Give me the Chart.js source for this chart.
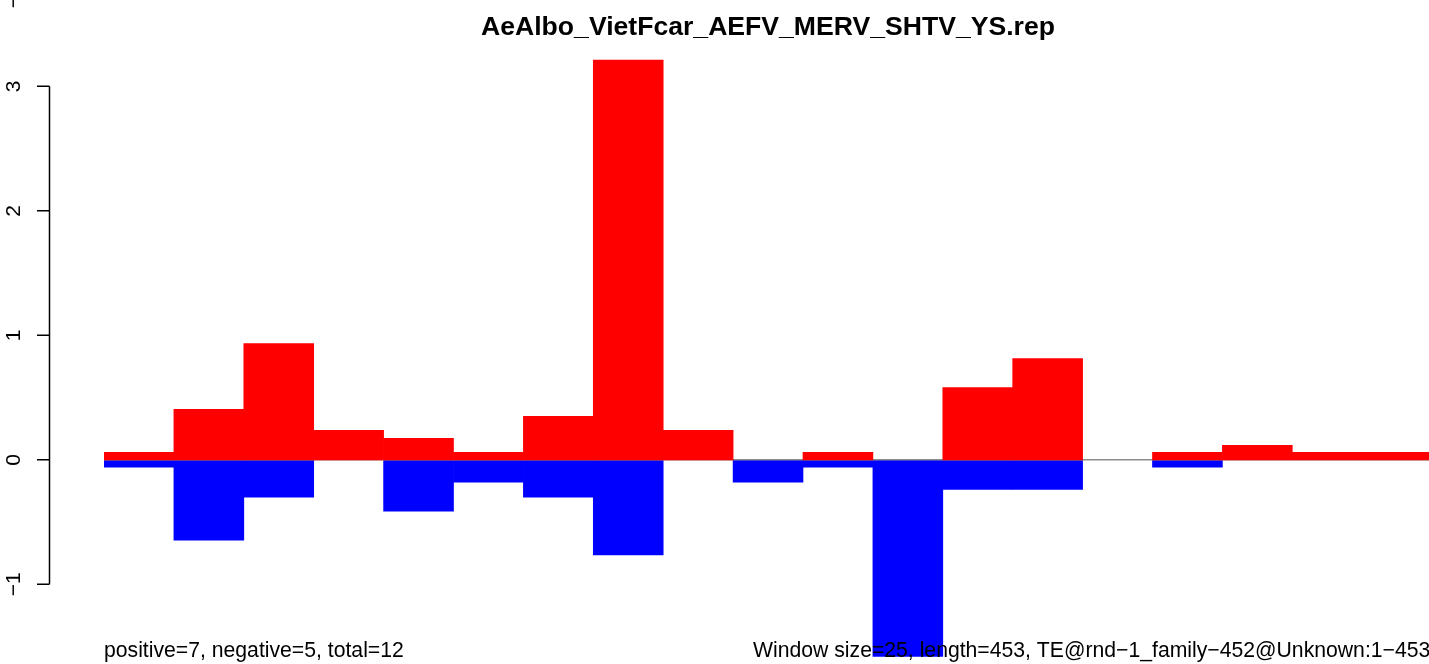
<!DOCTYPE html>
<html>
<head>
<meta charset="utf-8">
<script src="https://cdn.jsdelivr.net/npm/chart.js@4/dist/chart.umd.min.js"></script>
<style>
  html, body { margin: 0; padding: 0; background: #fff; }
  canvas { display: block; }
</style>
</head>
<body>
<canvas id="repChart" width="1429" height="664"></canvas>
<script>
// values, one per window (19 windows of 25 over length 453)
var positive = [0.06, 0.405, 0.934, 0.237, 0.172, 0.06, 0.349, 3.21, 0.237, 0, 0.06, 0, 0.581, 0.814, 0, 0.06, 0.116, 0.06, 0.06];
var negative = [-0.06, -0.646, -0.30, 0, -0.413, -0.18, -0.30, -0.763, 0, -0.18, -0.06, -1.58, -0.237, -0.237, 0, -0.06, 0, 0, 0];
var yTicks = [-1, 0, 1, 2, 3];
var title = 'AeAlbo_VietFcar_AEFV_MERV_SHTV_YS.rep';
var leftNote = 'positive=7, negative=5, total=12';
var rightNote = 'Window size=25, length=453, TE@rnd\u22121_family\u2212452@Unknown:1\u2212453';

// empty windows get no bar at all, only the zero line shows there
function toPoints(arr) {
    return arr.map(function (v, i) { return { x: i + 0.5, y: v === 0 ? null : v }; });
}

var rDecor = {
    id: 'rDecor',
    // zero line goes over the blue bars but under the red ones
    afterDatasetDraw: function (chart, args) {
        if (args.index !== 1) return;
        var c = chart.ctx, a = chart.chartArea;
        var y0 = chart.scales.y.getPixelForValue(0);
        c.save();
        c.strokeStyle = '#8c8c8c';
        c.lineWidth = 1.5;
        c.beginPath();
        c.moveTo(a.left, y0);
        c.lineTo(a.right, y0);
        c.stroke();
        c.restore();
    },
    afterDraw: function (chart) {
        var c = chart.ctx, ys = chart.scales.y;
        c.save();
        c.strokeStyle = '#000';
        c.fillStyle = '#000';
        c.lineWidth = 1.5;
        // y axis in R style: line only over the tick range
        var axisX = 49.5;
        c.beginPath();
        c.moveTo(axisX, ys.getPixelForValue(yTicks[0]));
        c.lineTo(axisX, ys.getPixelForValue(yTicks[yTicks.length - 1]));
        yTicks.forEach(function (t) {
            var py = ys.getPixelForValue(t);
            c.moveTo(axisX, py);
            c.lineTo(37, py);
        });
        c.stroke();
        c.font = '21px "Liberation Sans", Arial, sans-serif';
        c.textAlign = 'center';
        c.textBaseline = 'middle';
        yTicks.forEach(function (t) {
            var py = ys.getPixelForValue(t);
            c.save();
            c.translate(14, py);
            c.rotate(-Math.PI / 2);
            c.fillText(t < 0 ? '\u2212' + Math.abs(t) : String(t), 0, 0);
            c.restore();
        });
        // stray mark from the panel above
        c.save();
        c.translate(14, 2);
        c.rotate(-Math.PI / 2);
        c.fillText('\u2212', 0, 0);
        c.restore();

        c.font = 'bold 26.6px "Liberation Sans", Arial, sans-serif';
        c.textBaseline = 'alphabetic';
        c.fillText(title, 768, 35);

        c.font = '21.2px "Liberation Sans", Arial, sans-serif';
        c.textAlign = 'left';
        c.fillText(leftNote, 104, 657);
        c.fillText(rightNote, 753, 657);
        c.restore();
    }
};

var ctx = document.getElementById('repChart').getContext('2d');
new Chart(ctx, {
    type: 'bar',
    data: {
        datasets: [{
            label: 'positive',
            data: toPoints(positive),
            backgroundColor: '#ff0000',
            borderWidth: 0,
            grouped: false,
            barPercentage: 1,
            categoryPercentage: 1
        }, {
            label: 'negative',
            data: toPoints(negative),
            backgroundColor: '#0000ff',
            borderWidth: 0,
            grouped: false,
            barPercentage: 1,
            categoryPercentage: 1
        }]
    },
    options: {
        responsive: false,
        animation: false,
        layout: { padding: { left: 104, right: 0, top: 20, bottom: 0 } },
        plugins: {
            legend: { display: false },
            tooltip: { enabled: false }
        },
        scales: {
            x: {
                type: 'linear',
                display: false,
                offset: false,
                min: 0,
                max: 1325 / 69.9
            },
            y: {
                display: false,
                min: -204.5 / 124.7,
                max: 440.5 / 124.7
            }
        }
    },
    plugins: [rDecor]
});
</script>
</body>
</html>
